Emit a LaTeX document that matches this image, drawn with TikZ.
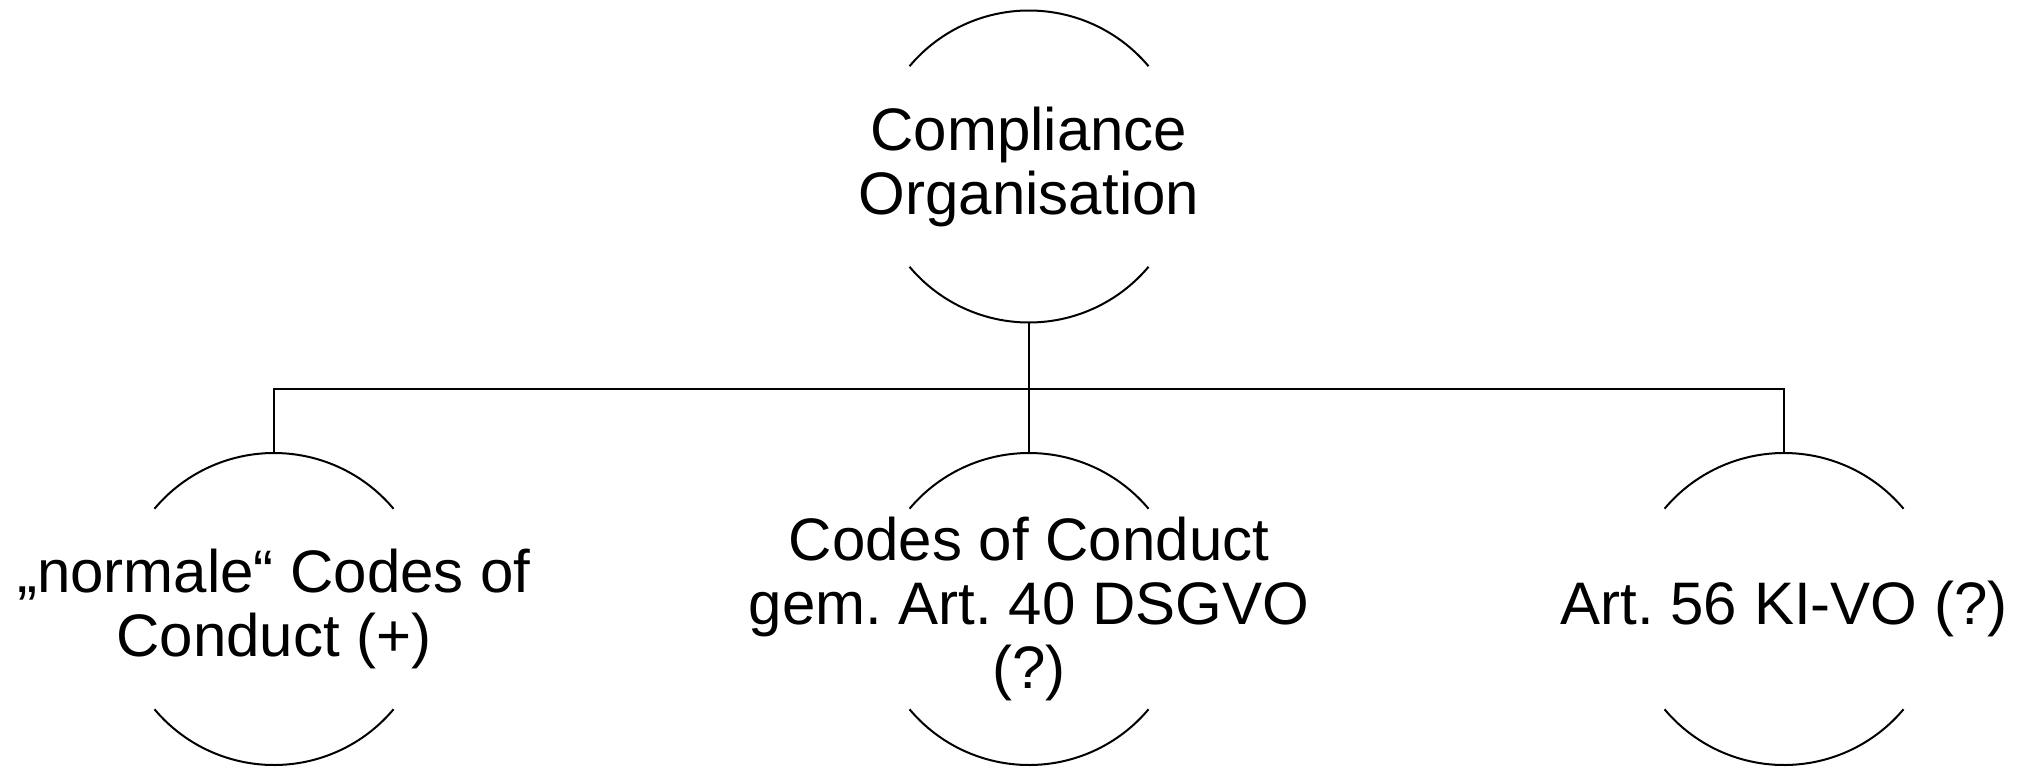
\documentclass[tikz,border=0pt]{standalone}
\usepackage{fontspec}
\setmainfont{Liberation Sans}
\frenchspacing
\begin{document}
\begin{tikzpicture}[x=1pt,y=-1pt,
  ring/.style={circle,draw=none,minimum size=312pt,inner sep=0pt,outer sep=0pt},
  caption/.style={align=center,inner sep=0pt,font=\fontsize{60}{64}\selectfont},
  wire/.style={line width=2pt},
  arcline/.style={line width=2pt}]
  \useasboundingbox (0,0) rectangle (2028,768);

  % invisible circles carrying the bracket arcs
  \node[ring] (top) at (1029,166.5) {};
  \node[ring] (c1)  at (274,609) {};
  \node[ring] (c2)  at (1029,609) {};
  \node[ring] (c3)  at (1784,609) {};

  % upper and lower arcs of each circle
  \foreach \n in {top,c1,c2,c3}{
    \draw[arcline] (\n.140) arc[start angle=140,end angle=40,radius=156pt];
    \draw[arcline] (\n.220) arc[start angle=220,end angle=320,radius=156pt];
  }

  % labels
  \node[caption] (topt) at (top) {Compliance\\Organisation};
  \node[caption] (c1t)  at (c1)  {„normale“ Codes of\\Conduct (+)};
  \node[caption] (c2t)  at (c2)  {Codes of Conduct\\gem. Art. 40 DSGVO\\(?)};
  \node[caption] (c3t)  at (c3)  {Art. 56 KI-VO (?)};

  % tree connectors
  \coordinate (bus) at (1029,388.5);
  \draw[wire] (top.south) -- (top.south |- bus);
  \draw[wire] (c1.north) |- (c3.north |- bus) -- (c3.north);
  \draw[wire] (c2.north) -- (c2.north |- bus);
\end{tikzpicture}
\end{document}
